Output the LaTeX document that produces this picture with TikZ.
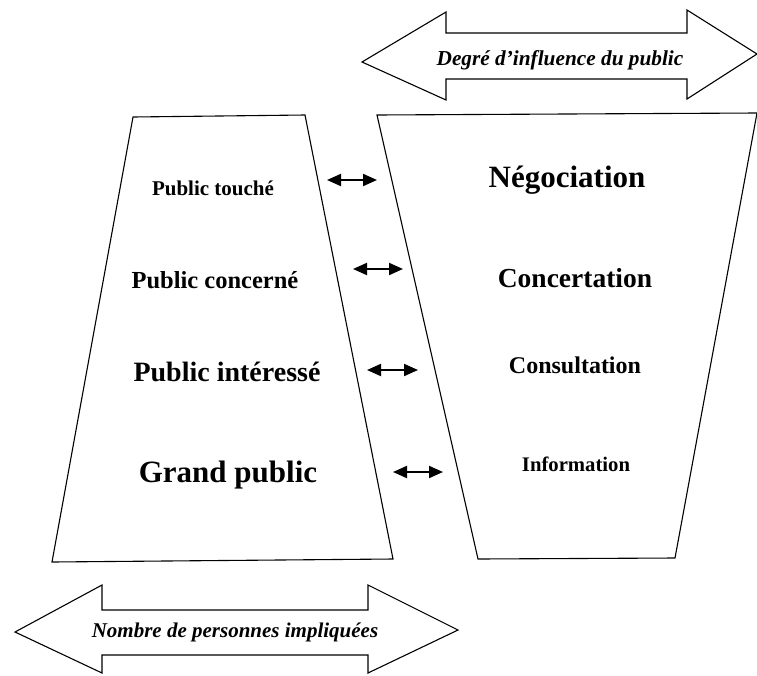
\documentclass[tikz,border=0pt]{standalone}
\usepackage{fontspec}
\setmainfont{Liberation Serif}
\usetikzlibrary{arrows.meta}

\begin{document}
\begin{tikzpicture}[x=1pt, y=-1pt,
  outline/.style={draw=black, line width=1.1pt, line join=miter},
  band/.style={font=\bfseries\itshape\fontsize{21.3}{24}\selectfont},
  lvl/.style={font=\bfseries, inner sep=0pt},
  link/.style={{Triangle[length=14pt,width=12pt]}-{Triangle[length=14pt,width=12pt]}, line width=2pt},
]
\useasboundingbox (0,0) rectangle (757,675);

% top band: influence
\draw[outline] (362,62) -- (446,12) -- (446,33) -- (687,33) -- (687,10) -- (757,54)
  -- (687,99) -- (687,79) -- (446,79) -- (446,100) -- cycle;
\node[band] (influence) at (560,60) {Degré d’influence du public};

% bottom band: number of people
\draw[outline] (15,632) -- (102,585) -- (102,610) -- (368,610) -- (368,585) -- (458,630)
  -- (368,673) -- (368,655) -- (102,655) -- (102,673) -- cycle;
\node[band, font=\bfseries\itshape\fontsize{21}{24}\selectfont] (people) at (235,632) {Nombre de personnes impliquées};

% left trapezoid: publics
\draw[outline] (133,117) -- (305,115) -- (393,559) -- (52,562) -- cycle;
\node[lvl, font=\bfseries\fontsize{21}{24}\selectfont] (touche) at (213,188) {Public touché};
\node[lvl, font=\bfseries\fontsize{24.5}{28}\selectfont] (concerne) at (215,280) {Public concerné};
\node[lvl, font=\bfseries\fontsize{28}{32}\selectfont] (interesse) at (227,372) {Public intéressé};
\node[lvl, font=\bfseries\fontsize{31}{36}\selectfont] (grand) at (228,475) {Grand public};

% right trapezoid: participation levels
\draw[outline] (377,115) -- (757,113) -- (675,558) -- (478,559) -- cycle;
\node[lvl, font=\bfseries\fontsize{31}{36}\selectfont] (nego) at (567,180) {Négociation};
\node[lvl, font=\bfseries\fontsize{27.5}{32}\selectfont] (concert) at (575,278) {Concertation};
\node[lvl, font=\bfseries\fontsize{24}{28}\selectfont] (consult) at (575,365) {Consultation};
\node[lvl, font=\bfseries\fontsize{20.7}{24}\selectfont] (info) at (576,464) {Information};

% links between the two sides
\coordinate (l1) at (327,180); \coordinate (r1) at (377,180);
\coordinate (l2) at (353,269); \coordinate (r2) at (403,269);
\coordinate (l3) at (367,370); \coordinate (r3) at (418,370);
\coordinate (l4) at (393,472); \coordinate (r4) at (443,472);
\foreach \i in {1,...,4}
  \draw[link] (l\i) -- (r\i);

\end{tikzpicture}
\end{document}
